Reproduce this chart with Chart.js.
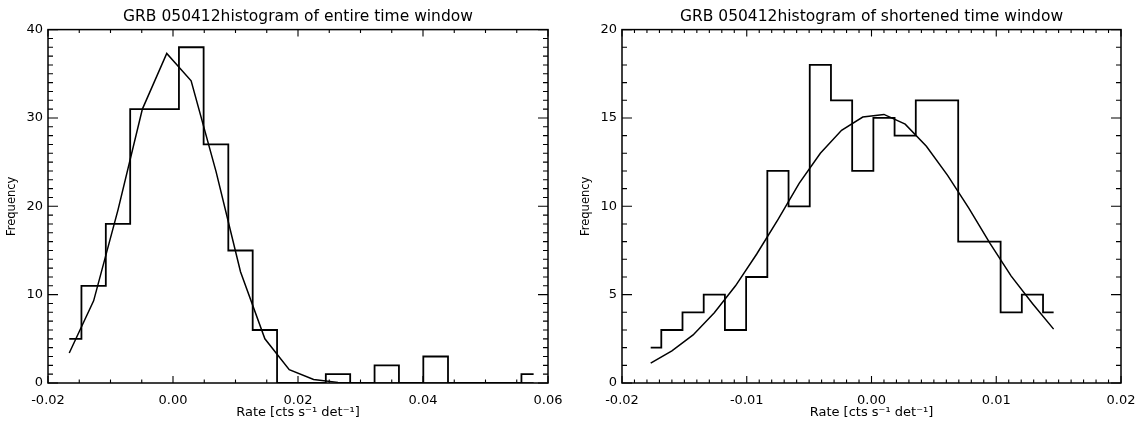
<!DOCTYPE html>
<html>
<head>
<meta charset="utf-8">
<script src="https://cdn.jsdelivr.net/npm/chart.js@4/dist/chart.umd.min.js"></script>
<style>
html, body { margin: 0; padding: 0; background: #fff; }
#wrap { position: relative; width: 1138px; height: 421px; }
.box { position: absolute; top: 0; width: 569px; height: 421px; }
</style>
</head>
<body>
<div id="wrap">
  <div class="box" style="left:0"><canvas id="left-chart"></canvas></div>
  <div class="box" style="left:569px"><canvas id="right-chart"></canvas></div>
</div>
<script>
// entire time window: bin centres, counts and gaussian fit
const leftRate = [-0.0166, -0.0127, -0.0088, -0.0049, -0.0010, 0.0029, 0.0069, 0.0108, 0.0147, 0.0186,
                  0.0225, 0.0264, 0.0303, 0.0342, 0.0381, 0.0420, 0.0460, 0.0499, 0.0538, 0.0577];
const leftCounts = [5, 11, 18, 31, 31, 38, 27, 15, 6, 0, 0, 1, 0, 2, 0, 3, 0, 0, 0, 1];
const leftFit = [3.4, 9.3, 19.6, 31.0, 37.3, 34.2, 23.9, 12.6, 5.0, 1.5, 0.4, 0.07, 0, 0, 0, 0, 0, 0, 0, 0];

// shortened time window
const rightRate = [-0.0177, -0.0160, -0.0143, -0.0126, -0.0109, -0.0092, -0.0075, -0.0058, -0.0041, -0.0024,
                   -0.0007, 0.0010, 0.0027, 0.0044, 0.0061, 0.0078, 0.0095, 0.0112, 0.0129, 0.0146];
const rightCounts = [2, 3, 4, 5, 3, 6, 12, 10, 18, 16, 12, 15, 14, 16, 16, 8, 8, 4, 5, 4];
const rightFit = [1.12, 1.82, 2.72, 3.98, 5.5, 7.3, 9.25, 11.3, 13.0, 14.3,
                  15.05, 15.2, 14.65, 13.4, 11.75, 9.9, 7.9, 6.05, 4.5, 3.05];

const FONT = "'DejaVu Sans', sans-serif";

// IDL style box with inward major + minor ticks on all four sides
const idlAxes = {
    id: 'idlAxes',
    afterDatasetsDraw(chart, args, opts) {
        const { ctx, chartArea: a, scales: { x, y } } = chart;
        const marks = (scale, minor) => {
            const majors = scale.ticks.map(t => t.value);
            const step = majors[1] - majors[0];
            const out = [];
            majors.forEach((v, i) => {
                out.push([scale.getPixelForValue(v), true]);
                if (i < majors.length - 1) {
                    for (let k = 1; k < minor; k++) out.push([scale.getPixelForValue(v + step * k / minor), false]);
                }
            });
            return out;
        };
        ctx.save();
        ctx.strokeStyle = '#000';
        ctx.lineWidth = 1.1;
        ctx.beginPath();
        marks(x, opts.xMinor).forEach(([px, major]) => {
            const len = major ? 7 : 3.5;
            ctx.moveTo(px, a.bottom); ctx.lineTo(px, a.bottom - len);
            ctx.moveTo(px, a.top); ctx.lineTo(px, a.top + len);
        });
        marks(y, opts.yMinor).forEach(([py, major]) => {
            const len = major ? 10 : 5;
            ctx.moveTo(a.left, py); ctx.lineTo(a.left + len, py);
            ctx.moveTo(a.right, py); ctx.lineTo(a.right - len, py);
        });
        ctx.stroke();
        ctx.lineWidth = 1.5;
        ctx.strokeRect(a.left, a.top, a.right - a.left, a.bottom - a.top);
        ctx.restore();
    }
};

function fmtRate(v) {
    if (Math.abs(v) < 1e-9) return '0.00';
    return v.toFixed(2);
}

function makeChart(id, cfg) {
    const hist = cfg.rate.map((r, i) => ({ x: r, y: cfg.counts[i] }));
    const fit = cfg.rate.map((r, i) => ({ x: r, y: cfg.fit[i] }));
    return new Chart(document.getElementById(id), {
        type: 'line',
        data: {
            datasets: [
                { data: hist, stepped: 'middle', borderColor: '#000', borderWidth: 1.8, pointRadius: 0, fill: false },
                { data: fit, borderColor: '#000', borderWidth: 1.5, pointRadius: 0, fill: false, tension: 0 }
            ]
        },
        options: {
            responsive: true,
            maintainAspectRatio: false,
            animation: false,
            layout: { padding: { left: 0, right: cfg.padRight, top: 0, bottom: 0 } },
            plugins: {
                legend: { display: false },
                tooltip: { enabled: false },
                title: {
                    display: true,
                    text: cfg.title,
                    fullSize: false,
                    color: '#000',
                    font: { family: FONT, size: 15.5, weight: 'normal' },
                    padding: { top: 8, bottom: 3 }
                },
                idlAxes: { xMinor: cfg.xMinor, yMinor: cfg.yMinor }
            },
            scales: {
                x: {
                    type: 'linear',
                    min: cfg.xMin, max: cfg.xMax,
                    grid: { display: false, drawTicks: false },
                    border: { display: false },
                    ticks: {
                        stepSize: cfg.xStep, padding: 10, color: '#000',
                        font: { family: FONT, size: 13 },
                        maxRotation: 0,
                        callback: v => fmtRate(v)
                    },
                    title: {
                        display: true, text: 'Rate [cts s\u207B\u00B9 det\u207B\u00B9]', color: '#000',
                        font: { family: FONT, size: 13 }, padding: { top: 0, bottom: 1 }
                    },
                    afterFit: s => { s.height = 38; s.paddingLeft = 0; s.paddingRight = 0; }
                },
                y: {
                    min: 0, max: cfg.yMax,
                    grid: { display: false, drawTicks: false },
                    border: { display: false },
                    ticks: {
                        stepSize: cfg.yStep, padding: 5, color: '#000',
                        font: { family: FONT, size: 13 }
                    },
                    title: {
                        display: true, text: 'Frequency', color: '#000',
                        font: { family: FONT, size: 11.5 }, padding: { top: cfg.yTitlePad, bottom: 0 }
                    },
                    afterFit: s => { s.width = cfg.yWidth; }
                }
            }
        },
        plugins: [idlAxes]
    });
}

makeChart('left-chart', {
    title: 'GRB 050412histogram of entire time window',
    rate: leftRate, counts: leftCounts, fit: leftFit,
    xMin: -0.02, xMax: 0.06, xStep: 0.02, xMinor: 4,
    yMax: 40, yStep: 10, yMinor: 10,
    yWidth: 48, padRight: 21, yTitlePad: 5
});

makeChart('right-chart', {
    title: 'GRB 050412histogram of shortened time window',
    rate: rightRate, counts: rightCounts, fit: rightFit,
    xMin: -0.02, xMax: 0.02, xStep: 0.01, xMinor: 10,
    yMax: 20, yStep: 5, yMinor: 5,
    yWidth: 53, padRight: 17, yTitlePad: 10
});
</script>
</body>
</html>
